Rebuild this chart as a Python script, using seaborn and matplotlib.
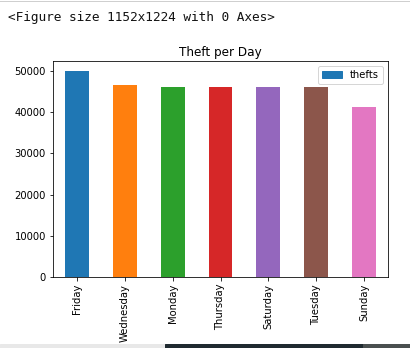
import matplotlib
matplotlib.use("Agg")
import matplotlib.pyplot as plt
import matplotlib.patches as mpatches
import seaborn as sns
import pandas as pd

days = ["Friday", "Wednesday", "Monday", "Thursday", "Saturday", "Tuesday", "Sunday"]
thefts = [49950, 46600, 46150, 46120, 46100, 46080, 41300]
colors = ["#1f77b4", "#ff7f0e", "#2ca02c", "#d62728", "#9467bd", "#8c564b", "#e377c2"]

df = pd.DataFrame({"day": days, "thefts": thefts})

dpi = 72
fig = plt.figure(figsize=(410 / dpi, 348 / dpi), dpi=dpi)
ax = fig.add_axes([53 / 410, 1 - 277 / 348, (388 - 53) / 410, (277 - 61) / 348])

sns.barplot(data=df, x="day", y="thefts", hue="day", palette=colors, order=days,
            width=0.5, saturation=1, linewidth=0, legend=False, ax=ax)

ax.set_ylim(0, max(thefts) * 1.05)
ax.set_xlim(-0.5, len(days) - 0.5)
ax.set_xlabel("")
ax.set_ylabel("")
ax.set_title("Theft per Day", fontsize=12, pad=5)
ax.tick_params(axis="x", rotation=90)
ax.legend(handles=[mpatches.Patch(color=colors[0])], labels=["thefts"], loc="upper right")

fig.text(8 / 410, 1 - 17 / 348, "<Figure size 1152x1224 with 0 Axes>",
         family="DejaVu Sans Mono", fontsize=12.8, va="center", ha="left", color="#111111")
fig.add_artist(plt.Line2D([0, 1], [1 - 1 / 348, 1 - 1 / 348], color="#cfcfcf", lw=1,
                          transform=fig.transFigure))
fig.add_artist(mpatches.Rectangle((0, 0), 165 / 410, 4 / 348, color="#e8e8e8", transform=fig.transFigure))
fig.add_artist(mpatches.Rectangle((165 / 410, 0), (363 - 165) / 410, 4 / 348, color="#1f2a30", transform=fig.transFigure))
fig.add_artist(mpatches.Rectangle((363 / 410, 0), (410 - 363) / 410, 4 / 348, color="#4a5050", transform=fig.transFigure))

fig.savefig("out.png", dpi=dpi)
